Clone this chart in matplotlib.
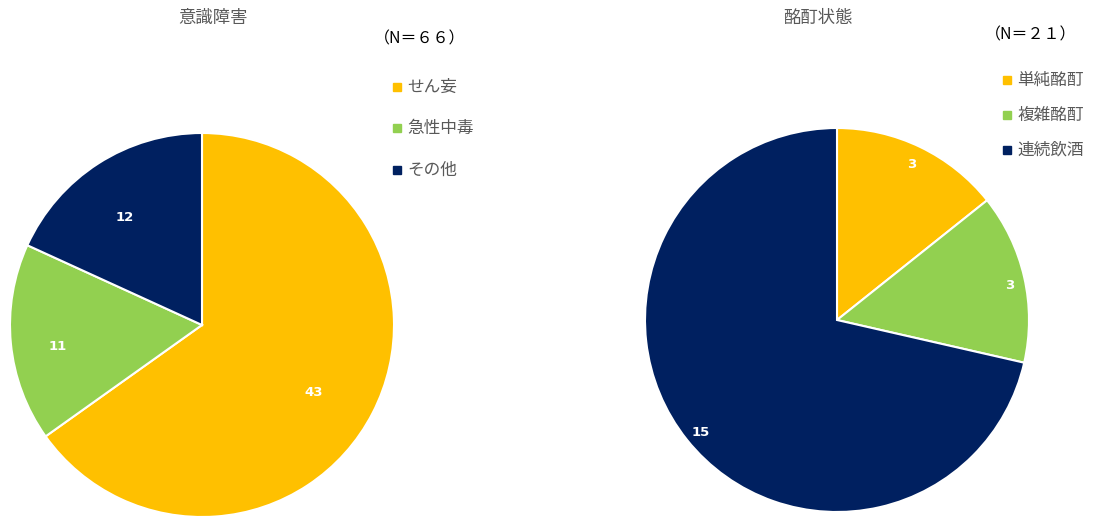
import matplotlib.pyplot as plt
from matplotlib.patches import Rectangle
import numpy as np

plt.rcParams['font.family'] = ['Noto Sans CJK JP', 'DejaVu Sans']

# Data
colors = ['#FFC000', '#92D050', '#002060']

title_left = '意識障害'
labels_left = ['せん妄', '急性中毒', 'その他']
values_left = [43, 11, 12]
n_left = '（N＝６６）'

title_right = '酩酊状態'
labels_right = ['単純酩酊', '複雑酩酊', '連続飲酒']
values_right = [3, 3, 15]
n_right = '（N＝２１）'

W, H = 1099, 518
fig = plt.figure(figsize=(W / 100, H / 100), dpi=100)


def fx(x):
    return x / W


def fy(y):
    return 1 - y / H


def draw_pie(cx, cy, r, values, label_dist, label_shift):
    ax = fig.add_axes([fx(cx - r), fy(cy + r), 2 * r / W, 2 * r / H])
    wedges, _ = ax.pie(values, colors=colors, startangle=90, counterclock=False,
                       radius=1, wedgeprops=dict(edgecolor='white', linewidth=1.5))
    for w, v, d, s in zip(wedges, values, label_dist, label_shift):
        ang = np.deg2rad((w.theta1 + w.theta2) / 2 + s)
        ax.text(d * np.cos(ang), d * np.sin(ang), str(v), color='white',
                fontsize=9.5, fontweight='bold', family='DejaVu Sans',
                ha='center', va='center')
    ax.set_xlim(-1, 1)
    ax.set_ylim(-1, 1)
    ax.axis('off')


def draw_legend(x, ys, labels):
    for y, lab, c in zip(ys, labels, colors):
        fig.add_artist(Rectangle((fx(x - 4), fy(y + 4)), 8 / W, 8 / H,
                                 transform=fig.transFigure, color=c))
        fig.text(fx(x + 10), fy(y), lab, fontsize=12, color='#595959',
                 ha='left', va='center')


# Left chart
draw_pie(202, 325, 192, values_left, [0.68, 0.76, 0.69], [-4, 3, 3])
fig.text(fx(213), fy(18), title_left, fontsize=12.5, color='#595959', ha='center', va='center')
fig.text(fx(420), fy(39), n_left, fontsize=11.5, color='black', ha='center', va='center')
draw_legend(397, [87, 128, 170], labels_left)

# Right chart
draw_pie(837, 320, 192, values_right, [0.90, 0.92, 0.92], [0, -1.5, 1])
fig.text(fx(818), fy(18), title_right, fontsize=12.5, color='#595959', ha='center', va='center')
fig.text(fx(1031), fy(35), n_right, fontsize=11.5, color='black', ha='center', va='center')
draw_legend(1007, [80, 115, 150], labels_right)

fig.savefig('out.png', dpi=100)
